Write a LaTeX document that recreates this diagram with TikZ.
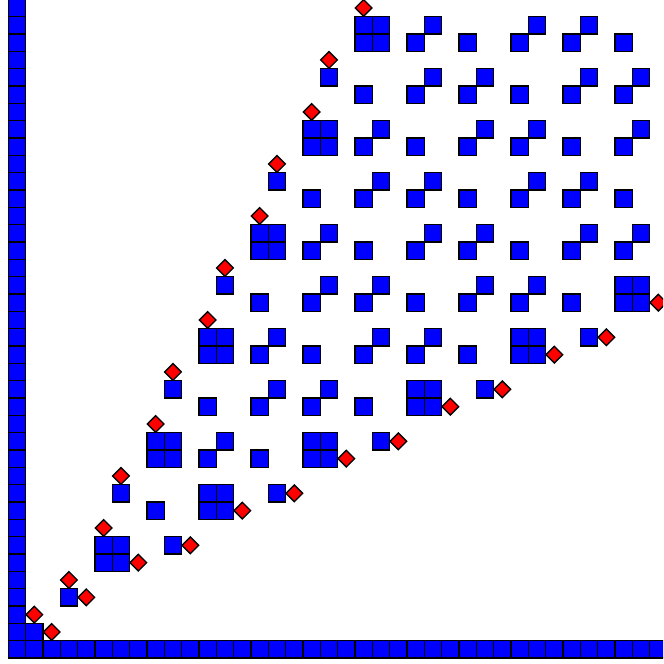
\documentclass[tikz,border=0pt]{standalone}
\tikzset{
  cellfill/.style={fill=blue},
  celledge/.style={draw=black,line width=1.2pt},
  gem/.style={fill=red,draw=black,line width=1.1pt,line join=miter}
}
\newcommand\cellmode{cellfill}
\newcommand\cellsq[2]{\path[\cellmode] (#1,#2) rectangle ++(1,1);}
\newcommand\gemat[2]{\draw[gem] (#1+0.5,#2+0.02) -- (#1+0.98,#2+0.5) -- (#1+0.5,#2+0.98) -- (#1+0.02,#2+0.5) -- cycle;}
\newcommand\allcells{%
  \foreach \r in {1,...,38} {\cellsq{0}{\r}}
  \foreach \c in {0,...,38} {\cellsq{\c}{0}}
  \cellsq{1}{1}
  \cellsq{3}{3}
  \foreach \c/\r in {5/5,8/11,11/17,14/23,17/29,20/35,11/8,17/11,23/14,29/17,35/20} {
    \cellsq{\c}{\r}\cellsq{\c+1}{\r}\cellsq{\c}{\r+1}\cellsq{\c+1}{\r+1}
  }
  \foreach \c/\r in {23/35,29/35,32/35,
    23/32,26/32,32/32,35/32,
    20/29,26/29,29/29,35/29,
    20/26,23/26,29/26,32/26,
    17/23,23/23,26/23,32/23,35/23,
    17/20,20/20,26/20,29/20,
    14/17,20/17,23/17,
    14/14,17/14,
    11/11} {
    \cellsq{\c}{\r}\cellsq{\c+1}{\r+1}
  }
  \foreach \c/\r in {26/35,35/35,20/32,29/32,23/29,32/29,17/26,26/26,35/26,
    20/23,29/23,14/20,23/20,32/20,17/17,26/17,11/14,20/14,14/11,8/8} {
    \cellsq{\c}{\r}
  }
  \foreach \c/\r in {17/32,14/26,11/20,32/17,8/14,26/14,20/11,5/8,14/8,8/5} {
    \cellsq{\c+1}{\r+1}
  }
}
\begin{document}
\begin{tikzpicture}[x=0.5cm,y=0.5cm]
\useasboundingbox (-0.479,-0.346) rectangle (37.77,37.96);
\clip (-0.479,-0.346) rectangle (37.77,37.96);
% first pass: blue fills, second pass: black outlines
\renewcommand\cellmode{cellfill}
\allcells
\renewcommand\cellmode{celledge}
\allcells
% red diamonds
\foreach \c/\r in {1/2,3/4,5/7,6/10,8/13,9/16,11/19,12/22,14/25,15/28,17/31,18/34,20/37} {
  \gemat{\c}{\r}
  \gemat{\r}{\c}
}
\end{tikzpicture}
\end{document}
